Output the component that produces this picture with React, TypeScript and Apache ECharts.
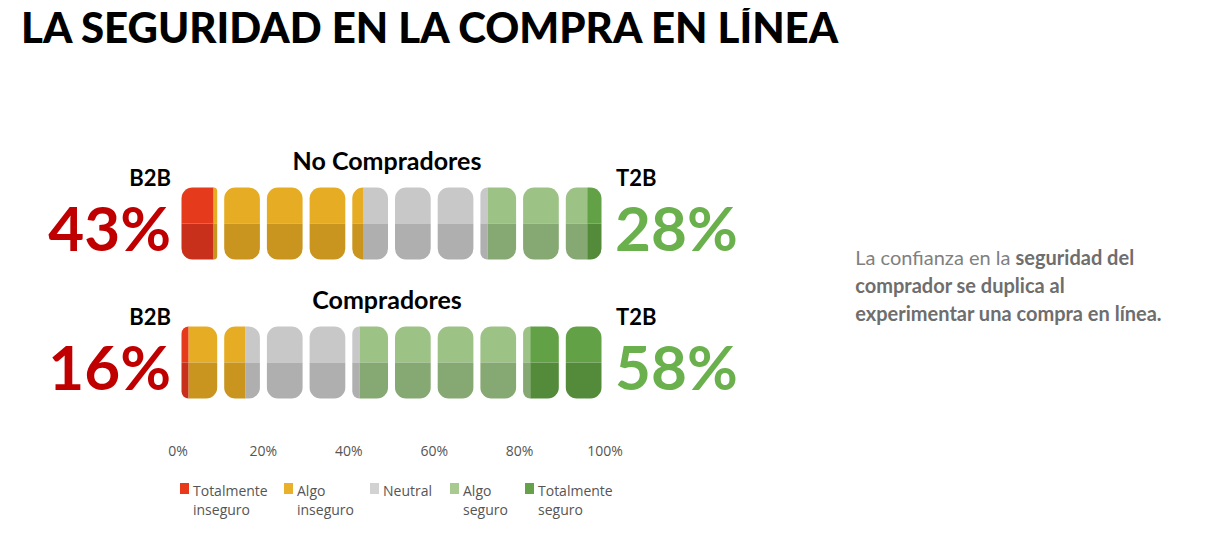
import React, { useEffect, useRef } from 'react';
import * as echarts from 'echarts';

const groups = ['No Compradores', 'Compradores'];
const categories = ['Totalmente\ninseguro', 'Algo\ninseguro', 'Neutral', 'Algo\nseguro', 'Totalmente\nseguro'];
const noCompradores = [9, 34, 29, 24, 4];
const compradores = [2, 14, 26, 40, 18];
const b2b = ['43%', '16%'];
const t2b = ['28%', '58%'];
const xTicks = [0, 20, 40, 60, 80, 100];

const topColors = ['#e63a1c', '#e6ad24', '#c8c8c8', '#9dc286', '#63a146'];
const bottomColors = ['#c8301b', '#c9951f', '#afafaf', '#86a872', '#548b3b'];
const legendColors = ['#e8391b', '#e8b02b', '#d2d2d2', '#a8ca90', '#64a148'];

const rows = [noCompradores, compradores];

const App: React.FC = () => {
    const chartRef = useRef<HTMLDivElement>(null);

    useEffect(() => {
        if (!chartRef.current) return;
        const chart = echarts.init(chartRef.current, undefined, { renderer: 'svg' });

        const renderItem = (params: any, api: any) => {
            const row = params.dataIndex;
            const vals = rows[row];
            const yc = api.coord([0, row])[1];
            const h = 72;
            const top = yc - h / 2;
            const gap = 7;
            const r = 11;
            const bounds: number[] = [0];
            vals.forEach((v) => bounds.push(bounds[bounds.length - 1] + v));
            const children: any[] = [];
            for (let i = 0; i < 10; i++) {
                const s = i * 10;
                const e = s + 10;
                const px0 = api.coord([s, row])[0] + gap / 2;
                const px1 = api.coord([e, row])[0] - gap / 2;
                const toPx = (v: number) => px0 + ((v - s) / 10) * (px1 - px0);
                for (let k = 0; k < vals.length; k++) {
                    const a = Math.max(bounds[k], s);
                    const b = Math.min(bounds[k + 1], e);
                    if (b - a <= 0) continue;
                    const x = toPx(a);
                    const w = toPx(b) - x;
                    const rl = a === s ? r : 0;
                    const rr = b === e ? r : 0;
                    children.push({
                        type: 'rect',
                        shape: { x, y: top, width: w, height: h / 2, r: [rl, rr, 0, 0] },
                        style: { fill: topColors[k] }
                    });
                    children.push({
                        type: 'rect',
                        shape: { x, y: top + h / 2, width: w, height: h / 2, r: [0, 0, rr, rl] },
                        style: { fill: bottomColors[k] }
                    });
                }
            }
            return { type: 'group', children };
        };

        const graphics: any[] = [
            {
                type: 'text', left: 13, top: -2,
                style: { text: 'LA SEGURIDAD EN LA COMPRA EN LÍNEA', font: '900 42px Lato', fill: '#000' }
            },
            {
                type: 'text', right: 45, top: 235,
                style: {
                    text: 'La confianza en la {b|seguridad del}\n{b|comprador se duplica al}\n{b|experimentar una compra en línea.}',
                    font: '20px Lato', fill: '#808080', align: 'right', lineHeight: 28,
                    rich: { b: { font: 'bold 20px Lato', fill: '#6e6e6e', lineHeight: 28 } }
                }
            }
        ];
        const rowY = [215, 354];
        groups.forEach((g, i) => {
            const y = rowY[i];
            graphics.push(
                { type: 'text', x: 379, y: y - 63, style: { text: g, font: 'bold 25px Lato', fill: '#000', align: 'center', verticalAlign: 'middle' } },
                { type: 'text', x: 163, y: y - 46, style: { text: 'B2B', font: 'bold 22px Lato', fill: '#000', align: 'right', verticalAlign: 'middle' } },
                { type: 'text', x: 163, y: y + 4, style: { text: b2b[i], font: 'bold 62px Lato', fill: '#c00000', align: 'right', verticalAlign: 'middle' } },
                { type: 'text', x: 608, y: y - 46, style: { text: 'T2B', font: 'bold 22px Lato', fill: '#000', align: 'left', verticalAlign: 'middle' } },
                { type: 'text', x: 607, y: y + 4, style: { text: t2b[i], font: 'bold 62px Lato', fill: '#6ab04c', align: 'left', verticalAlign: 'middle' } }
            );
        });
        const legendX = [172, 276, 362, 442, 517];
        categories.forEach((c, i) => {
            graphics.push(
                { type: 'rect', shape: { x: legendX[i], y: 475, width: 9, height: 11 }, style: { fill: legendColors[i] } },
                { type: 'text', x: legendX[i] + 13, y: 473, style: { text: c, font: '14px "Open Sans"', fill: '#555', lineHeight: 19 } }
            );
        });

        chart.setOption({
            animation: false,
            grid: { left: 170, right: 602, top: 146, bottom: 120 },
            xAxis: {
                type: 'value', min: 0, max: 100, interval: 20,
                axisLine: { show: false }, axisTick: { show: false }, splitLine: { show: false },
                axisLabel: {
                    margin: 11, color: '#555', fontSize: 14, fontFamily: 'Open Sans',
                    formatter: (v: number) => (xTicks.includes(v) ? v + '%' : '')
                }
            },
            yAxis: {
                type: 'category', data: groups, inverse: true,
                axisLine: { show: false }, axisTick: { show: false }, axisLabel: { show: false }
            },
            series: [
                { type: 'custom', renderItem, data: [[0, 0], [0, 1]], encode: { x: 0, y: 1 }, silent: true }
            ],
            graphic: graphics
        });

        return () => chart.dispose();
    }, []);

    return <div ref={chartRef} style={{ width: 1199, height: 544 }} />;
};

export default App;
